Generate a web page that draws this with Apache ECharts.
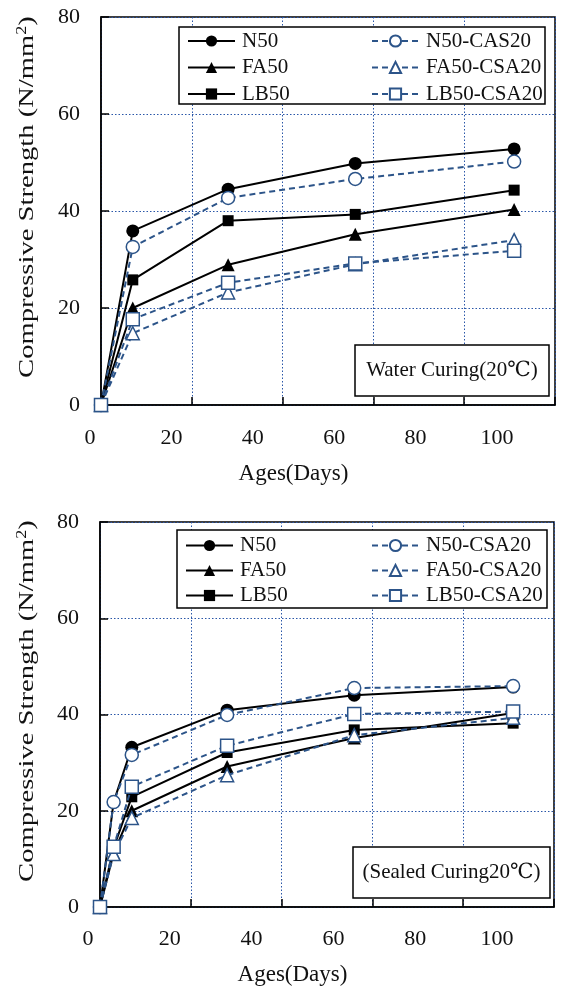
<!DOCTYPE html>
<html>
<head>
<meta charset="utf-8">
<script src="https://cdn.jsdelivr.net/npm/echarts@6/dist/echarts.min.js"></script>
<style>
  html, body { margin: 0; padding: 0; background: #fff; }
  #chart { width: 584px; height: 987px; }
</style>
</head>
<body>
<div id="chart"></div>
<script>
// Ages (days) at which each specimen set was tested
const agesWater = [0, 7, 28, 56, 91];
const agesSealed = [0, 3, 7, 28, 56, 91];

// Water curing (20 °C) compressive strength, N/mm²
const waterN50 = [0, 35.9, 44.5, 49.8, 52.8];
const waterFA50 = [0, 20.0, 28.9, 35.2, 40.3];
const waterLB50 = [0, 25.8, 38.0, 39.3, 44.3];
const waterN50CSA = [0, 32.6, 42.7, 46.6, 50.2];
const waterFA50CSA = [0, 14.8, 23.2, 29.0, 34.0];
const waterLB50CSA = [0, 17.7, 25.2, 29.2, 31.8];

// Sealed curing (20 °C) compressive strength, N/mm²
const sealedN50 = [0, 21.8, 33.2, 40.9, 44.0, 45.7];
const sealedFA50 = [0, 11.2, 20.0, 29.2, 35.1, 40.3];
const sealedLB50 = [0, 12.3, 22.9, 32.1, 36.8, 38.2];
const sealedN50CSA = [0, 21.8, 31.6, 39.9, 45.5, 45.9];
const sealedFA50CSA = [0, 11.0, 18.5, 27.4, 35.7, 39.3];
const sealedLB50CSA = [0, 12.5, 25.0, 33.5, 40.1, 40.6];

// Axis ticks
const yTicks = [0, 20, 40, 60, 80];
const xTicks = [0, 20, 40, 60, 80, 100];

const legendWater = ['N50', 'FA50', 'LB50', 'N50-CAS20', 'FA50-CSA20', 'LB50-CSA20'];
const legendSealed = ['N50', 'FA50', 'LB50', 'N50-CSA20', 'FA50-CSA20', 'LB50-CSA20'];
const curingWater = 'Water Curing(20\u2103)';
const curingSealed = '(Sealed Curing20\u2103)';
const yName = 'Compressive Strength (N/mm';
const xName = 'Ages(Days)';

const FONT = '"Liberation Serif", "DejaVu Serif", serif';
const INK = '#111';
const BLACK = '#000';
const BLUE = '#2c5489';
const GRID_BLUE = '#2a56a8';

function zip(xs, ys) { return xs.map((x, i) => [x, ys[i]]); }

const styles = [
  { symbol: 'circle', size: 13, dashed: false, fill: BLACK },
  { symbol: 'triangle', size: 13, dashed: false, fill: BLACK },
  { symbol: 'rect', size: 11, dashed: false, fill: BLACK },
  { symbol: 'circle', size: 13, dashed: true, fill: '#fff' },
  { symbol: 'triangle', size: 13, dashed: true, fill: '#fff' },
  { symbol: 'rect', size: 13, dashed: true, fill: '#fff' }
];

function makeSeries(names, ages, sets, gi) {
  return names.map((name, i) => {
    const st = styles[i];
    const col = st.dashed ? BLUE : BLACK;
    return {
      name: name,
      type: 'line',
      xAxisIndex: gi,
      yAxisIndex: gi,
      data: zip(ages, sets[i]),
      symbol: st.symbol,
      symbolSize: st.size,
      z: st.dashed ? 4 : 3,
      lineStyle: { color: col, width: 2, type: st.dashed ? [6, 4] : 'solid' },
      itemStyle: { color: st.fill, borderColor: col, borderWidth: st.dashed ? 1.5 : 0 },
      emphasis: { disabled: true },
      animation: false
    };
  });
}

// Plot panels
const panels = [
  { left: 101, top: 17, width: 454, height: 388 },
  { left: 100, top: 522, width: 454, height: 385 }
];

const grids = [];
const xAxes = [];
const yAxes = [];

panels.forEach((p, gi) => {
  grids.push({ left: p.left, top: p.top, width: p.width, height: p.height,
    show: true, borderColor: BLACK, borderWidth: 1.5, backgroundColor: 'transparent' });
  xAxes.push({
    type: 'value', gridIndex: gi, min: 0, max: 100, interval: 20,
    axisLine: { show: true, lineStyle: { color: BLACK, width: 1.5 } },
    axisTick: { show: true, inside: true, length: 8, lineStyle: { color: BLACK, width: 1.5 } },
    axisLabel: { show: false },
    splitLine: { show: true, lineStyle: { color: GRID_BLUE, type: [1.5, 2], width: 1 } }
  });
  yAxes.push({
    type: 'value', gridIndex: gi, min: 0, max: 80, interval: 20,
    axisLine: { show: true, lineStyle: { color: BLACK, width: 1.5 } },
    axisTick: { show: true, inside: true, length: 8, lineStyle: { color: BLACK, width: 1.5 } },
    axisLabel: { show: true, margin: 21, fontFamily: FONT, fontSize: 22, color: INK,
      formatter: v => yTicks.includes(v) ? String(v) : '' },
    splitLine: { show: true, lineStyle: { color: GRID_BLUE, type: [1.5, 2], width: 1 } }
  });
});

// Label-only axes carrying the day tick values and the x axis title
const labelPanels = [
  { left: 90, top: 17, width: 407, height: 388 },
  { left: 88, top: 522, width: 409, height: 385 }
];
labelPanels.forEach((p, k) => {
  const gi = 2 + k;
  grids.push({ left: p.left, top: p.top, width: p.width, height: p.height, show: false });
  xAxes.push({
    type: 'value', gridIndex: gi, min: 0, max: 100, interval: 20,
    name: xName, nameLocation: 'middle', nameGap: 57,
    nameTextStyle: { fontFamily: FONT, fontSize: 23, color: INK },
    axisLine: { show: false }, axisTick: { show: false }, splitLine: { show: false },
    axisLabel: { show: true, margin: 22, fontFamily: FONT, fontSize: 22, color: INK,
      formatter: v => xTicks.includes(v) ? String(v) : '' }
  });
  yAxes.push({ type: 'value', gridIndex: gi, min: 0, max: 80, show: false });
});

function legendCol(names, left, top, gap) {
  return {
    left: left, top: top, orient: 'vertical', data: names, padding: 0,
    itemWidth: 47, itemHeight: 14, itemGap: gap,
    selectedMode: false,
    textStyle: { fontFamily: FONT, fontSize: 21, color: INK, padding: [0, 0, 0, 2] }
  };
}

function box(x1, y1, x2, y2, z) {
  return { type: 'rect', shape: { x: x1, y: y1, width: x2 - x1, height: y2 - y1 },
    style: { fill: '#fff', stroke: BLACK, lineWidth: 1.5 }, z: z };
}

function curingLabel(text, x1, y1, x2, y2) {
  return [
    box(x1, y1, x2, y2, 5),
    { type: 'text', x: (x1 + x2) / 2, y: (y1 + y2) / 2, z: 6,
      style: { text: text, font: '21px ' + FONT, fill: INK, align: 'center', verticalAlign: 'middle' } }
  ];
}

// Vertical y axis title with superscript, stretched along its length
function yTitle(cx, cy) {
  return {
    type: 'text', x: cx, y: cy, rotation: Math.PI / 2, scaleX: 1.3, z: 6,
    style: {
      text: '{a|' + yName + '}{b|2}{a|)}',
      align: 'center', verticalAlign: 'middle',
      rich: {
        a: { fontFamily: FONT, fontSize: 22, fill: INK, lineHeight: 24 },
        b: { fontFamily: FONT, fontSize: 14, fill: INK, verticalAlign: 'top', lineHeight: 24 }
      }
    }
  };
}

const option = {
  backgroundColor: '#fff',
  animation: false,
  grid: grids,
  xAxis: xAxes,
  yAxis: yAxes,
  legend: [
    legendCol(legendWater.slice(0, 3), 187, 30.5, 5.5),
    legendCol(legendWater.slice(3), 371, 30.5, 5.5),
    legendCol(legendSealed.slice(0, 3), 185, 535, 4),
    legendCol(legendSealed.slice(3), 371, 535, 4)
  ],
  graphic: [
    box(179, 27, 545, 104, 1),
    box(177, 530, 547, 608, 1),
    ...curingLabel(curingWater, 355, 345, 549, 396),
    ...curingLabel(curingSealed, 353, 847, 550, 898),
    yTitle(27, 197),
    yTitle(27, 701)
  ],
  series: [
    ...makeSeries(legendWater, agesWater,
      [waterN50, waterFA50, waterLB50, waterN50CSA, waterFA50CSA, waterLB50CSA], 0),
    ...makeSeries(legendSealed, agesSealed,
      [sealedN50, sealedFA50, sealedLB50, sealedN50CSA, sealedFA50CSA, sealedLB50CSA], 1)
  ]
};

const chart = echarts.init(document.getElementById('chart'), null, { renderer: 'canvas' });
chart.setOption(option);
</script>
</body>
</html>
